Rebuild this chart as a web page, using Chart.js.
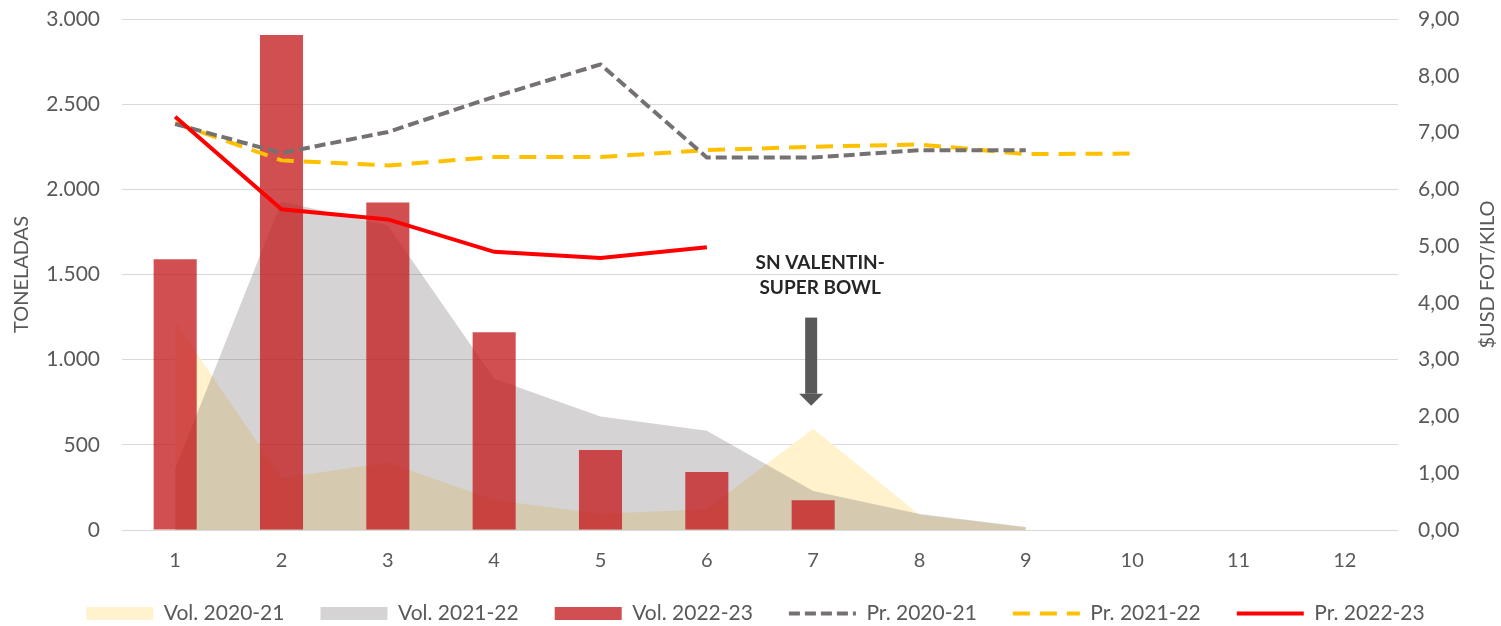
<!DOCTYPE html>
<html><head><meta charset="utf-8">
<script src="https://cdn.jsdelivr.net/npm/chart.js@4.4.0/dist/chart.umd.min.js"></script>
<style>html,body{margin:0;padding:0;background:#fff;}#wrap{width:1501px;height:626px;position:relative;}</style>
</head><body><div id="wrap"><canvas id="c"></canvas></div>
<script>
// ---- data ----
const categories = ['1','2','3','4','5','6','7','8','9','10','11','12'];
const vol2021 = [1224, 306, 396, 176, 96, 122, 594, 90, 15, null, null, null];
const vol2122 = [359, 1929, 1788, 888, 666, 582, 229, 94, 18, null, null, null];
const vol2223 = [1590, 2906, 1922, 1161, 469, 341, 175, null, null, null, null, null];
const pr2021 = [7.15, 6.64, 7.01, 7.63, 8.20, 6.56, 6.56, 6.69, 6.69, null, null, null];
const pr2122 = [7.17, 6.51, 6.42, 6.57, 6.57, 6.69, 6.75, 6.79, 6.62, 6.63, null, null];
const pr2223 = [7.28, 5.65, 5.47, 4.90, 4.79, 4.98, null, null, null, null, null, null];
const seriesLabels = ['Vol. 2020-21','Vol. 2021-22','Vol. 2022-23','Pr. 2020-21','Pr. 2021-22','Pr. 2022-23'];
const leftAxisTitle = 'TONELADAS';
const rightAxisTitle = '$USD FOT/KILO';
const annotationLines = ['SN VALENTIN-', 'SUPER BOWL'];
const annotationIndex = 6;

const FONT = 'Lato, "DejaVu Sans", sans-serif';
const TXT = '#595959';

const annotationPlugin = {
  id: 'annot',
  afterDatasetsDraw(chart) {
    const ctx = chart.ctx, xs = chart.scales.x, ys = chart.scales.y;
    const x = xs.getPixelForValue(annotationIndex) - 2;
    const top = ys.getPixelForValue(1247), head = ys.getPixelForValue(800), tip = ys.getPixelForValue(729);
    ctx.save();
    ctx.fillStyle = '#595959';
    ctx.fillRect(x - 6, top, 12, head - top);
    ctx.beginPath();
    ctx.moveTo(x - 12, head); ctx.lineTo(x + 12, head); ctx.lineTo(x, tip); ctx.closePath(); ctx.fill();
    ctx.fillStyle = '#262626';
    ctx.font = 'bold 19px ' + FONT;
    ctx.textAlign = 'center'; ctx.textBaseline = 'middle';
    ctx.fillText(annotationLines[0], x + 9, ys.getPixelForValue(1570));
    ctx.fillText(annotationLines[1], x + 9, ys.getPixelForValue(1424));
    ctx.restore();
  }
};
const rightTitlePlugin = {
  id: 'rtitle',
  afterDraw(chart) {
    const ctx = chart.ctx, s = chart.scales.y1;
    ctx.save();
    ctx.translate(chart.width - 13, (s.top + s.bottom) / 2);
    ctx.rotate(-Math.PI / 2);
    ctx.fillStyle = TXT; ctx.font = '20px ' + FONT;
    ctx.textAlign = 'center'; ctx.textBaseline = 'middle';
    ctx.fillText(rightAxisTitle, 0, 0);
    ctx.restore();
  }
};
const legendShift = {
  id: 'legendShift',
  afterLayout(chart) {
    const l = chart.legend;
    if (l) { l.top -= 25; l.bottom -= 25; l.left += 5; l.right += 5; }
  }
};

new Chart(document.getElementById('c'), {
  data: {
    labels: categories,
    datasets: [
      { type: 'line', label: seriesLabels[0], data: vol2021, yAxisID: 'y', fill: 'origin',
        backgroundColor: '#FFF2CC', borderWidth: 0, pointRadius: 0, tension: 0, order: 4 },
      { type: 'line', label: seriesLabels[1], data: vol2122, yAxisID: 'y', fill: 'origin',
        backgroundColor: 'rgba(105,98,100,0.28)', borderWidth: 0, pointRadius: 0, tension: 0, order: 3 },
      { type: 'bar', label: seriesLabels[2], data: vol2223, yAxisID: 'y',
        backgroundColor: 'rgba(196,30,32,0.78)', borderWidth: 0, barPercentage: 1, categoryPercentage: 0.405, order: 2 },
      { type: 'line', label: seriesLabels[3], data: pr2021, yAxisID: 'y1', borderColor: '#767171',
        borderWidth: 4, borderDash: [11, 5], pointRadius: 0, fill: false, tension: 0, order: 1 },
      { type: 'line', label: seriesLabels[4], data: pr2122, yAxisID: 'y1', borderColor: '#FFC000',
        borderWidth: 4, borderDash: [17, 10], pointRadius: 0, fill: false, tension: 0, order: 1 },
      { type: 'line', label: seriesLabels[5], data: pr2223, yAxisID: 'y1', borderColor: '#FF0000',
        borderWidth: 4, pointRadius: 0, fill: false, tension: 0, order: 0 }
    ]
  },
  options: {
    responsive: true, maintainAspectRatio: false, animation: false,
    layout: { padding: { top: 19, left: 0, right: 0, bottom: -33 } },
    plugins: {
      tooltip: { enabled: false },
      legend: {
        position: 'bottom',
        labels: {
          usePointStyle: true, pointStyleWidth: 67, boxHeight: 13, padding: 36,
          color: TXT, font: { family: FONT, size: 21 },
          generateLabels(chart) {
            return chart.data.datasets.map((ds, i) => {
              const isLine = ds.type === 'line' && !ds.fill;
              return {
                text: ds.label, datasetIndex: i, hidden: false, fontColor: TXT,
                fillStyle: isLine ? ds.borderColor : ds.backgroundColor,
                strokeStyle: isLine ? ds.borderColor : 'rgba(0,0,0,0)',
                lineWidth: isLine ? 4 : 0, lineDash: ds.borderDash || [], lineCap: 'butt',
                pointStyle: isLine ? 'line' : 'rect'
              };
            });
          }
        }
      }
    },
    scales: {
      x: {
        grid: { display: false, drawTicks: false }, border: { display: false },
        ticks: { color: TXT, font: { family: FONT, size: 20 }, padding: 19 }
      },
      y: {
        position: 'left', min: 0, max: 3000,
        afterFit(s) { s.width = 122; },
        grid: { color: '#D9D9D9', lineWidth: 1, drawTicks: true, tickLength: 22, tickColor: 'rgba(0,0,0,0)' },
        border: { display: false },
        ticks: { stepSize: 500, color: TXT, padding: 0, font: { family: FONT, size: 21 },
          callback: v => v.toLocaleString('de-DE') },
        title: { display: true, text: leftAxisTitle, color: TXT, font: { family: FONT, size: 20 }, padding: { top: 10, bottom: 0 } }
      },
      y1: {
        position: 'right', min: 0, max: 9,
        afterFit(s) { s.width = 103; },
        grid: { display: true, drawOnChartArea: false, drawTicks: true, tickLength: 20, tickColor: 'rgba(0,0,0,0)' },
        border: { display: false },
        ticks: { stepSize: 1, color: TXT, padding: 0, font: { family: FONT, size: 21 },
          callback: v => v.toFixed(2).replace('.', ',') }
      }
    }
  },
  plugins: [annotationPlugin, rightTitlePlugin, legendShift]
});
</script></body></html>
